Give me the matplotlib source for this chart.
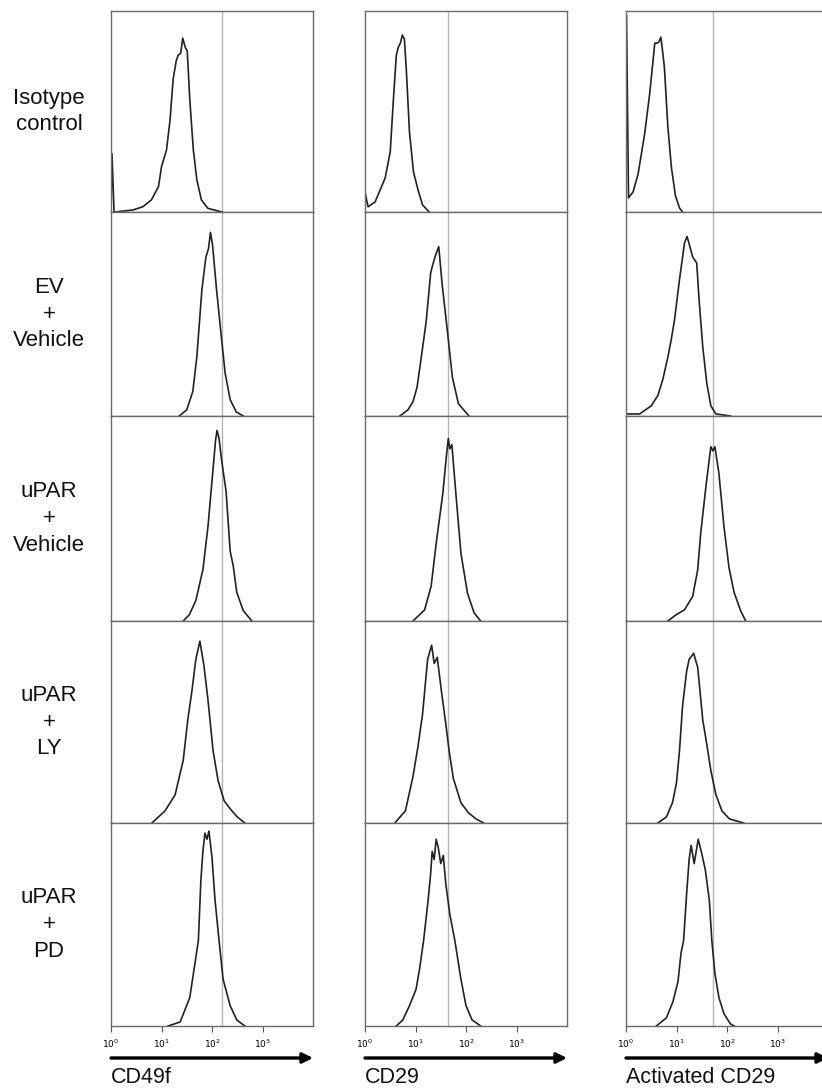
import numpy as np
import matplotlib
matplotlib.use("Agg")
import matplotlib.pyplot as plt

plt.rcParams['font.family'] = ['Liberation Sans', 'DejaVu Sans']

ROW_LABELS = ["Isotype\ncontrol", "EV\n+\nVehicle", "uPAR\n+\nVehicle",
              "uPAR\n+\nLY", "uPAR\n+\nPD"]
MARKERS = ["CD49f", "CD29", "Activated CD29"]
GATES = [158, 45, 54]          # grey reference line per marker

# histogram traces: log10 intensity and relative count (panel height = 1)
# --- CD49f ---
cd49f_iso_lx = [0.0, 0.02, 0.06, 0.08, 0.43, 0.63, 0.80, 0.94, 1.00, 1.10, 1.17,
                1.23, 1.29, 1.33, 1.38, 1.42, 1.47, 1.51, 1.56, 1.63, 1.70,
                1.79, 1.92, 2.12, 2.20]
cd49f_iso_y = [0.0, 0.29, 0.0, 0.0, 0.01, 0.026, 0.06, 0.126, 0.225, 0.31, 0.46,
               0.66, 0.75, 0.78, 0.79, 0.865, 0.82, 0.80, 0.56, 0.31, 0.16,
               0.06, 0.018, 0.005, 0.0]
cd49f_ev_lx = [1.35, 1.50, 1.62, 1.70, 1.80, 1.88, 1.93, 1.97, 2.01, 2.09, 2.18,
               2.26, 2.36, 2.48, 2.62]
cd49f_ev_y = [0.0, 0.03, 0.12, 0.29, 0.62, 0.78, 0.82, 0.90, 0.84, 0.62, 0.40,
              0.21, 0.08, 0.02, 0.0]
cd49f_upar_lx = [1.43, 1.55, 1.68, 1.82, 1.92, 2.02, 2.07, 2.10, 2.14, 2.19,
                 2.28, 2.36, 2.42, 2.49, 2.62, 2.79]
cd49f_upar_y = [0.0, 0.03, 0.10, 0.25, 0.46, 0.74, 0.88, 0.93, 0.89, 0.785,
                0.63, 0.34, 0.27, 0.14, 0.05, 0.0]
cd49f_ly_lx = [0.81, 1.07, 1.27, 1.43, 1.52, 1.60, 1.68, 1.76, 1.84, 1.92, 2.02,
               2.12, 2.24, 2.36, 2.50, 2.65]
cd49f_ly_y = [0.0, 0.06, 0.14, 0.31, 0.51, 0.65, 0.81, 0.90, 0.78, 0.61, 0.36,
              0.21, 0.11, 0.07, 0.03, 0.0]
cd49f_pd_lx = [1.13, 1.37, 1.56, 1.73, 1.78, 1.82, 1.86, 1.90, 1.94, 2.00, 2.06,
               2.14, 2.22, 2.36, 2.49, 2.65]
cd49f_pd_y = [0.0, 0.02, 0.14, 0.42, 0.72, 0.86, 0.95, 0.92, 0.96, 0.83, 0.62,
              0.42, 0.23, 0.10, 0.03, 0.0]

# --- CD29 ---
cd29_iso_lx = [0.0, 0.06, 0.20, 0.30, 0.40, 0.50, 0.56, 0.62, 0.66, 0.70, 0.74,
               0.78, 0.82, 0.88, 0.96, 1.05, 1.14, 1.27]
cd29_iso_y = [0.10, 0.026, 0.05, 0.11, 0.17, 0.30, 0.55, 0.78, 0.82, 0.84, 0.88,
              0.86, 0.70, 0.40, 0.20, 0.11, 0.035, 0.0]
cd29_ev_lx = [0.69, 0.85, 0.95, 1.03, 1.11, 1.21, 1.30, 1.34, 1.40, 1.46, 1.53,
              1.63, 1.73, 1.85, 2.06]
cd29_ev_y = [0.0, 0.03, 0.07, 0.14, 0.28, 0.46, 0.70, 0.74, 0.79, 0.83, 0.64,
             0.42, 0.19, 0.06, 0.0]
cd29_upar_lx = [0.95, 1.18, 1.31, 1.41, 1.54, 1.61, 1.65, 1.68, 1.72, 1.80,
                1.90, 2.03, 2.16, 2.29]
cd29_upar_y = [0.0, 0.054, 0.17, 0.38, 0.62, 0.80, 0.89, 0.84, 0.86, 0.62,
               0.33, 0.135, 0.04, 0.0]
cd29_ly_lx = [0.59, 0.80, 0.95, 1.05, 1.14, 1.24, 1.32, 1.37, 1.43, 1.52, 1.60,
              1.67, 1.75, 1.90, 2.05, 2.20, 2.35]
cd29_ly_y = [0.0, 0.06, 0.23, 0.38, 0.54, 0.81, 0.88, 0.79, 0.82, 0.64, 0.49,
             0.35, 0.22, 0.10, 0.05, 0.02, 0.0]
cd29_pd_lx = [0.62, 0.75, 0.88, 1.01, 1.08, 1.16, 1.25, 1.30, 1.33, 1.37, 1.41,
              1.45, 1.50, 1.55, 1.60, 1.68, 1.78, 1.90, 2.00, 2.12, 2.29]
cd29_pd_y = [0.0, 0.03, 0.10, 0.18, 0.28, 0.42, 0.62, 0.75, 0.86, 0.82, 0.92,
             0.88, 0.80, 0.84, 0.70, 0.55, 0.42, 0.23, 0.10, 0.03, 0.0]

# --- Activated CD29 ---
act_iso_lx = [0.0, 0.01, 0.05, 0.14, 0.24, 0.37, 0.47, 0.57, 0.61, 0.65, 0.69,
              0.72, 0.76, 0.83, 0.90, 0.98, 1.06, 1.12]
act_iso_y = [0.0, 0.98, 0.07, 0.10, 0.19, 0.39, 0.59, 0.84, 0.84, 0.845, 0.87,
             0.81, 0.72, 0.42, 0.22, 0.08, 0.02, 0.0]
act_ev_lx = [0.0, 0.27, 0.50, 0.63, 0.73, 0.83, 0.90, 0.96, 1.06, 1.16, 1.21,
             1.32, 1.40, 1.45, 1.52, 1.60, 1.68, 1.78, 2.07]
act_ev_y = [0.01, 0.01, 0.05, 0.10, 0.18, 0.29, 0.38, 0.47, 0.67, 0.85, 0.88,
            0.78, 0.75, 0.56, 0.34, 0.16, 0.05, 0.01, 0.0]
act_upar_lx = [0.83, 0.99, 1.16, 1.32, 1.42, 1.48, 1.58, 1.68, 1.72, 1.76,
               1.84, 1.94, 2.04, 2.14, 2.27, 2.37]
act_upar_y = [0.0, 0.03, 0.055, 0.12, 0.25, 0.43, 0.65, 0.85, 0.83, 0.85,
              0.72, 0.46, 0.26, 0.14, 0.05, 0.0]
act_ly_lx = [0.63, 0.80, 0.92, 1.00, 1.06, 1.12, 1.20, 1.25, 1.34, 1.42, 1.52,
             1.58, 1.68, 1.78, 1.90, 2.05, 2.33]
act_ly_y = [0.0, 0.03, 0.10, 0.20, 0.36, 0.58, 0.75, 0.81, 0.84, 0.77, 0.51,
            0.42, 0.26, 0.14, 0.06, 0.02, 0.0]
act_pd_lx = [0.60, 0.80, 0.93, 1.03, 1.09, 1.14, 1.20, 1.25, 1.29, 1.35, 1.43,
             1.50, 1.57, 1.65, 1.70, 1.76, 1.84, 1.94, 2.07, 2.14]
act_pd_y = [0.0, 0.04, 0.12, 0.22, 0.36, 0.42, 0.65, 0.82, 0.89, 0.80, 0.92,
            0.85, 0.77, 0.62, 0.42, 0.26, 0.14, 0.06, 0.01, 0.0]

TRACES = [
    [(cd49f_iso_lx, cd49f_iso_y), (cd29_iso_lx, cd29_iso_y), (act_iso_lx, act_iso_y)],
    [(cd49f_ev_lx, cd49f_ev_y), (cd29_ev_lx, cd29_ev_y), (act_ev_lx, act_ev_y)],
    [(cd49f_upar_lx, cd49f_upar_y), (cd29_upar_lx, cd29_upar_y), (act_upar_lx, act_upar_y)],
    [(cd49f_ly_lx, cd49f_ly_y), (cd29_ly_lx, cd29_ly_y), (act_ly_lx, act_ly_y)],
    [(cd49f_pd_lx, cd49f_pd_y), (cd29_pd_lx, cd29_pd_y), (act_pd_lx, act_pd_y)],
]

W, H = 822, 1089
fig = plt.figure(figsize=(W / 100, H / 100), dpi=100)

col_left = [111, 365, 626]
col_width = 202
row_edges = [11, 212, 416, 621, 823, 1026]

for r in range(5):
    top, bot = row_edges[r], row_edges[r + 1]
    for c in range(3):
        ax = fig.add_axes([col_left[c] / W, 1 - bot / H, col_width / W, (bot - top) / H])
        lx, y = TRACES[r][c]
        ax.plot(10 ** np.array(lx), y, color='#222222', lw=1.2)
        ax.axvline(GATES[c], color='#b4b4b4', lw=1.0, zorder=0)
        ax.set_xscale('log')
        ax.set_xlim(1, 1e4)
        ax.set_ylim(0, 1.0)
        ax.set_yticks([])
        for s in ax.spines.values():
            s.set_color('#6a6a6a')
            s.set_linewidth(1.0)
        if r == 4:
            ax.set_xticks([1, 10, 100, 1000])
            ax.set_xticklabels(['$10^0$', '$10^1$', '$10^2$', '$10^3$'], fontsize=6.5)
            ax.xaxis.set_minor_locator(matplotlib.ticker.LogLocator(base=10, subs=np.arange(2, 10)))
            ax.xaxis.set_minor_formatter(matplotlib.ticker.NullFormatter())
            ax.tick_params(axis='x', which='major', length=4, width=0.8, color='#555555', pad=4)
            ax.tick_params(axis='x', which='minor', length=2, width=0.6, color='#555555')
        else:
            ax.set_xticks([])
            ax.xaxis.set_minor_locator(matplotlib.ticker.NullLocator())

# row labels
for r in range(5):
    yc = (row_edges[r] + row_edges[r + 1]) / 2
    fig.text(49 / W, 1 - yc / H, ROW_LABELS[r], ha='center', va='center',
             fontsize=16, linespacing=1.35, color='#111111')

# arrows and marker names
for c in range(3):
    x0 = col_left[c] / W
    x1 = (col_left[c] + col_width) / W
    fig.add_artist(matplotlib.patches.FancyArrowPatch(
        (x0, 1 - 1058 / H), (x1, 1 - 1058 / H), transform=fig.transFigure,
        arrowstyle='-|>,head_length=4,head_width=2.0', mutation_scale=1.5,
        color='black', lw=2.4, shrinkA=0, shrinkB=0))
    fig.text(x0, 1 - 1083 / H, MARKERS[c], ha='left', va='baseline',
             fontsize=15.5, color='#111111')

fig.savefig('out.png', dpi=100)
